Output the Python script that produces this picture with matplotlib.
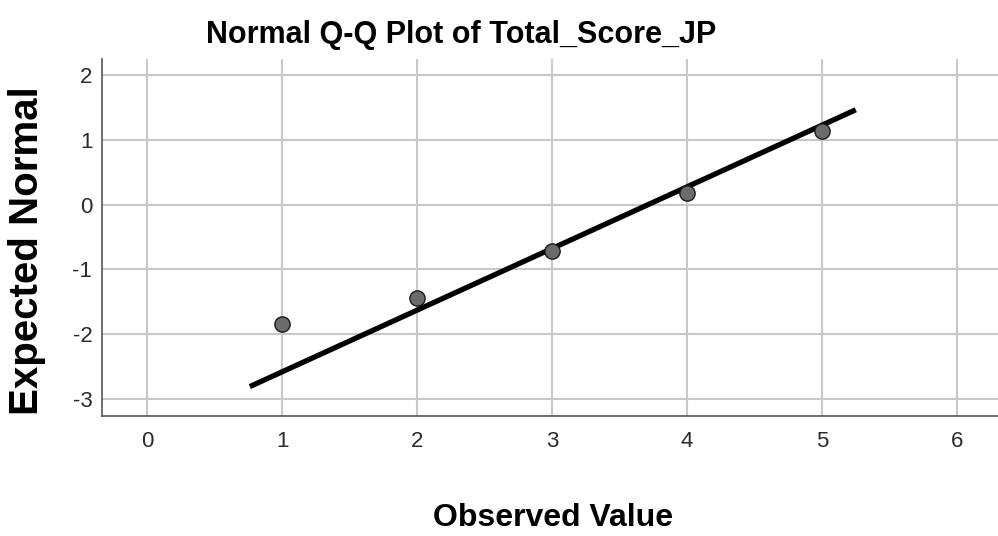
import matplotlib
matplotlib.use("Agg")
import matplotlib.pyplot as plt
import numpy as np

# observed values and their expected normal scores
observed = [1, 2, 3, 4, 5]
expected_normal = [-1.85, -1.44, -0.71, 0.18, 1.14]

# reference line: y = (x - mean) / sd, drawn between these x values
line_mean = 3.71
line_sd = 1.049
line_x = [0.76, 5.25]

x_ticks = [0, 1, 2, 3, 4, 5, 6]
y_ticks = [-3, -2, -1, 0, 1, 2]

plt.rcParams['font.family'] = ['Liberation Sans', 'DejaVu Sans']
plt.rcParams['axes.unicode_minus'] = False

fig = plt.figure(figsize=(9.98, 5.36), dpi=100)
ax = fig.add_axes([102 / 998, 120.3 / 536, 896 / 998, 356.7 / 536])

ax.set_xlim(-0.336, 6.304)
ax.set_ylim(-3.263, 2.253)
ax.set_xticks(x_ticks)
ax.set_yticks(y_ticks)
ax.grid(True, color='#c8c8c8', linewidth=1.5)
ax.set_axisbelow(True)

ax.tick_params(length=0, labelsize=16, labelcolor='#2a2a2a')
ax.tick_params(axis='x', pad=11)
ax.tick_params(axis='y', pad=7)

for side in ['top', 'right']:
    ax.spines[side].set_visible(False)
for side in ['left', 'bottom']:
    ax.spines[side].set_color('#555555')
    ax.spines[side].set_linewidth(1.2)

lx = np.array(line_x)
ax.plot(lx, (lx - line_mean) / line_sd, color='black', linewidth=3.8,
        solid_capstyle='butt', zorder=3)
ax.plot(observed, expected_normal, linestyle='none', marker='o',
        markersize=11, markerfacecolor='#6b6b6b', markeredgecolor='#1a1a1a',
        markeredgewidth=1.0, zorder=4)

fig.text(461 / 998, 1 - 43 / 536, "Normal Q-Q Plot of Total_Score_JP",
         ha='center', va='baseline', fontsize=22, fontweight='bold')
fig.text(553.5 / 998, 1 - 526 / 536, "Observed Value",
         ha='center', va='baseline', fontsize=23, fontweight='bold')
fig.text(27 / 998, 1 - 251 / 536, "Expected Normal", rotation=90,
         ha='center', va='center', fontsize=29, fontweight='bold')

fig.savefig("out.png", dpi=100)
